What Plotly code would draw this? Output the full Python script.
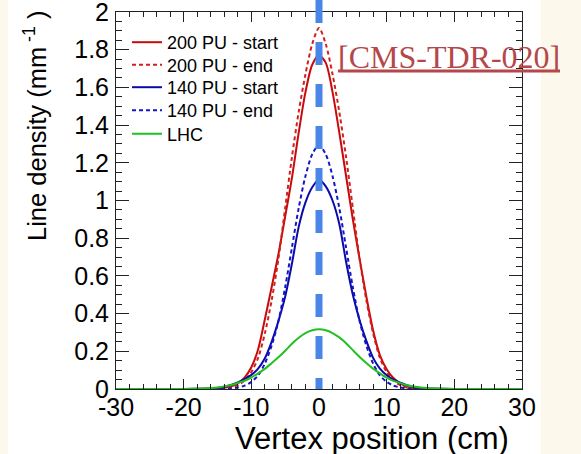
import plotly.graph_objects as go

# Vertex position grid (cm)
vertex_cm = [-30, -20, -18, -16, -15, -14, -13, -12, -11, -10, -9, -8, -7, -6, -5, -4, -3, -2, -1,
             0, 1, 2, 3, 4, 5, 6, 7, 8, 9, 10, 11, 12, 13, 14, 15, 16, 18, 20, 30]

# Line density (mm^-1)
pu200_start = [0, 0, 0.0005, 0.002, 0.003, 0.006, 0.014, 0.03, 0.06, 0.115, 0.21, 0.37, 0.54, 0.715, 0.915, 1.12, 1.36, 1.575, 1.72,
               1.77, 1.73, 1.575, 1.36, 1.13, 0.9, 0.69, 0.49, 0.31, 0.18, 0.105, 0.058, 0.03, 0.014, 0.006, 0.003, 0.002, 0.0005, 0, 0]
pu200_end = [0, 0, 0, 0.0005, 0.001, 0.003, 0.008, 0.02, 0.045, 0.09, 0.165, 0.295, 0.47, 0.69, 0.96, 1.23, 1.47, 1.67, 1.83,
             1.915, 1.83, 1.67, 1.47, 1.23, 0.96, 0.69, 0.47, 0.295, 0.165, 0.09, 0.045, 0.02, 0.008, 0.003, 0.001, 0.0005, 0, 0, 0]
pu140_start = [0, 0, 0.001, 0.003, 0.006, 0.012, 0.022, 0.035, 0.052, 0.075, 0.108, 0.163, 0.25, 0.36, 0.49, 0.665, 0.86, 0.99, 1.07,
               1.11, 1.075, 1.0, 0.875, 0.675, 0.5, 0.365, 0.255, 0.165, 0.108, 0.073, 0.05, 0.033, 0.02, 0.011, 0.006, 0.003, 0.001, 0, 0]
pu140_end = [0, 0, 0, 0, 0.0005, 0.001, 0.003, 0.008, 0.018, 0.038, 0.072, 0.135, 0.23, 0.36, 0.54, 0.75, 0.96, 1.13, 1.245,
             1.294, 1.245, 1.13, 0.96, 0.75, 0.54, 0.36, 0.23, 0.135, 0.072, 0.038, 0.018, 0.008, 0.003, 0.001, 0.0005, 0, 0, 0, 0]
lhc = [0, 0.0005, 0.002, 0.005, 0.008, 0.014, 0.021, 0.032, 0.044, 0.061, 0.083, 0.107, 0.137, 0.168, 0.203, 0.24, 0.272, 0.297, 0.312,
       0.317, 0.312, 0.297, 0.274, 0.243, 0.206, 0.17, 0.138, 0.108, 0.083, 0.06, 0.043, 0.031, 0.02, 0.013, 0.008, 0.005, 0.002, 0.0005, 0]

series_names = ["200 PU - start", "200 PU - end", "140 PU - start", "140 PU - end", "LHC"]
series_values = [pu200_start, pu200_end, pu140_start, pu140_end, lhc]
series_colors = ["#c80a0a", "#d02020", "#0a0aa8", "#1414c8", "#22c022"]
series_dash = ["solid", "4px,3px", "solid", "4px,3px", "solid"]

x_ticks = [-30, -20, -10, 0, 10, 20, 30]
x_ticktext = ["-30", "-20", "-10", "0", "10", "20", "30"]
y_ticks = [0, 0.2, 0.4, 0.6, 0.8, 1, 1.2, 1.4, 1.6, 1.8, 2]
y_ticktext = ["0", "0.2", "0.4", "0.6", "0.8", "1", "1.2", "1.4", "1.6", "1.8", "2"]

FONT = "Liberation Sans, Arial, Helvetica, sans-serif"
L, R, T, B = 116, 59, 12, 65
W, H = 581, 454
pw, ph = W - L - R, H - T - B

def px_x(p):
    return (p - L) / pw

def px_y(p):
    return (H - B - p) / ph

# legend row centres (px from top), one small legend per entry
legend_rows = [43, 65.5, 88, 111, 134.5]
legend_ids = ["legend", "legend2", "legend3", "legend4", "legend5"]

fig = go.Figure()
for name, vals, col, dsh, lid in zip(series_names, series_values, series_colors, series_dash, legend_ids):
    fig.add_trace(go.Scatter(x=vertex_cm, y=vals, mode="lines", name=name, legend=lid,
                             line=dict(color=col, width=2, dash=dsh, shape="spline", smoothing=0.8)))

axis_common = dict(showline=True, linecolor="#222", linewidth=1, mirror="ticks", ticks="inside",
                   tickcolor="#222", tickwidth=1, showgrid=False, zeroline=False,
                   ticklabeloverflow="allow", automargin=False,
                   tickfont=dict(family=FONT, size=25, color="black"))

fig.update_xaxes(range=[-30, 30], tickmode="array", tickvals=x_ticks, ticktext=x_ticktext, ticklen=10,
                 ticklabelstandoff=-4,
                 minor=dict(dtick=2, tick0=0, ticklen=5, ticks="inside", tickcolor="#222", showgrid=False),
                 **axis_common)
fig.update_yaxes(range=[0, 2], tickmode="array", tickvals=y_ticks, ticktext=y_ticktext, ticklen=13,
                 ticklabelstandoff=1,
                 minor=dict(dtick=0.05, tick0=0, ticklen=6, ticks="inside", tickcolor="#222", showgrid=False),
                 **axis_common)

shapes = [
    dict(type="rect", xref="paper", yref="paper", x0=px_x(8), x1=px_x(541), y0=px_y(470), y1=px_y(-10),
         fillcolor="white", line=dict(width=0), layer="below"),
    dict(type="line", xref="x", yref="paper", x0=0, x1=0, y0=px_y(0), y1=0,
         line=dict(color="#4a86e8", width=7, dash="23px,19px")),
    dict(type="line", xref="paper", yref="paper", x0=px_x(338), x1=px_x(560), y0=px_y(71), y1=px_y(71),
         line=dict(color="#b5474b", width=3)),
]

annotations = [
    dict(text="Vertex position (cm)", xref="paper", yref="paper", x=px_x(511), y=px_y(438),
         xanchor="right", yanchor="middle", showarrow=False, font=dict(family=FONT, size=31, color="black")),
    dict(text="Line density (mm<sup> -1</sup> )", xref="paper", yref="paper", x=px_x(35), y=px_y(126),
         xanchor="center", yanchor="middle", textangle=-90, showarrow=False,
         font=dict(family=FONT, size=25.5, color="black")),
    dict(text="[CMS-TDR-020]", xref="paper", yref="paper", x=px_x(336), y=px_y(57),
         xanchor="left", yanchor="middle", showarrow=False,
         font=dict(family="Liberation Serif, Times New Roman, serif", size=32, color="#b5474b")),
]

legend_layouts = {}
for lid, row in zip(legend_ids, legend_rows):
    legend_layouts[lid] = dict(x=px_x(127), y=px_y(row - 19), xanchor="left", yanchor="top",
                               bgcolor="rgba(0,0,0,0)", borderwidth=0,
                               font=dict(family=FONT, size=18, color="black"), itemwidth=30)

fig.update_layout(
    width=W, height=H, autosize=False,
    margin=dict(l=L, r=R, t=T, b=B, pad=0, autoexpand=False),
    paper_bgcolor="#fdf8ec", plot_bgcolor="white",
    shapes=shapes, annotations=annotations,
    showlegend=True,
    **legend_layouts,
)

fig.write_html("out.html", config={"displayModeBar": False},
               post_script="document.body.style.margin='0';")
